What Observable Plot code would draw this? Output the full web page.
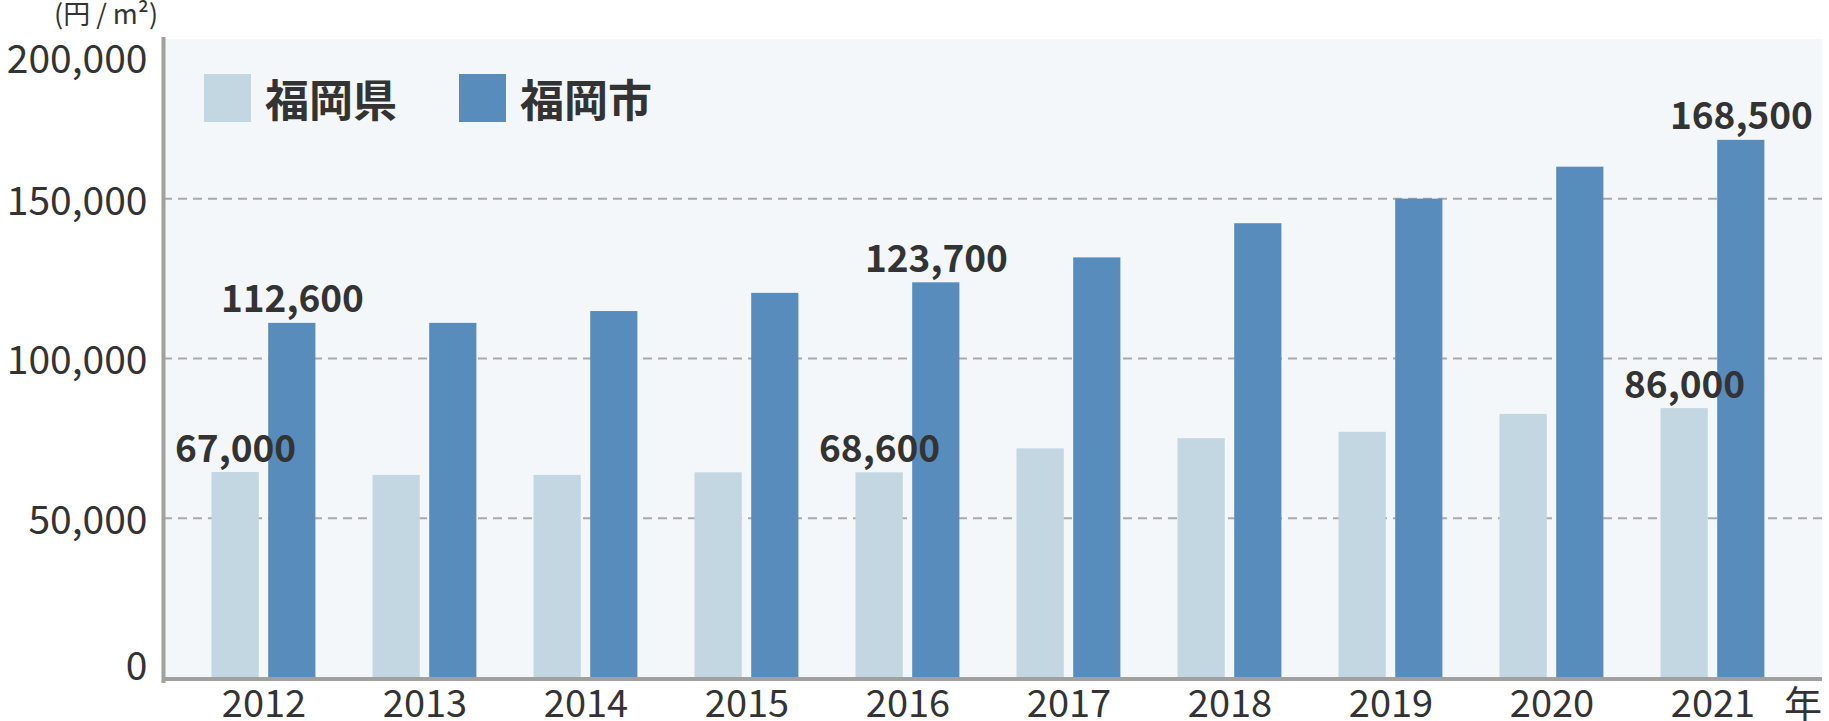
<!DOCTYPE html>
<html><head><meta charset="utf-8">
<script src="https://cdn.jsdelivr.net/npm/d3@7"></script>
<script src="https://cdn.jsdelivr.net/npm/@observablehq/plot@0.6"></script>
<style>
html,body{margin:0;padding:0;background:#fff;}
#wrap{position:relative;width:1829px;height:721px;overflow:hidden;font-family:"Noto Sans CJK JP","Noto Sans",sans-serif;color:#333;}
#wrap svg{position:absolute;left:0;top:0;}
.unit{position:absolute;left:54px;top:1px;font-size:27px;line-height:23px;white-space:nowrap;}
.legend{position:absolute;left:204px;top:74px;display:flex;align-items:center;height:48px;}
.legend .item{display:flex;align-items:center;margin-right:62px;}
.legend .sw{width:47px;height:48px;margin-right:14px;}
.legend .lab{font-size:44px;font-weight:bold;line-height:48px;white-space:nowrap;}
.nen{position:absolute;right:7px;top:684px;font-size:38px;line-height:36px;}
</style></head><body><div id="wrap"></div>
<script>
const years = ["2012","2013","2014","2015","2016","2017","2018","2019","2020","2021"];
const seriesNames = ["福岡県","福岡市"];
const seriesColors = ["#c3d7e3","#578cbc"];
const prefValues = [64300, 63400, 63400, 64200, 64200, 71700, 74900, 76900, 82500, 84300];
const cityValues = [111000, 111000, 114700, 120400, 123700, 131500, 142200, 149900, 159900, 168300];
const yTicks = [0, 50000, 100000, 150000, 200000];
const prefLabelYears = ["2012","2016","2021"];
const prefLabelTexts = ["67,000","68,600","86,000"];
const cityLabelYears = ["2012","2016","2021"];
const cityLabelTexts = ["112,600","123,700","168,500"];
const unitText = "(円 / m²)";
const yearUnit = "年";

const prefData = years.map((year, i) => ({year, value: prefValues[i]}));
const cityData = years.map((year, i) => ({year, value: cityValues[i]}));
const prefLabelData = prefLabelYears.map((year, i) => ({year, text: prefLabelTexts[i], value: prefValues[years.indexOf(year)]}));
const cityLabelData = cityLabelYears.map((year, i) => ({year, text: cityLabelTexts[i], value: cityValues[years.indexOf(year)]}));

const axisColor = "#a0a19c";
const textColor = "#333333";
const fmt = d3.format(",");

const chart = Plot.plot({
  width: 1829,
  height: 721,
  marginLeft: 163,
  marginRight: 7,
  marginTop: 38.6,
  marginBottom: 43.6,
  style: {fontFamily: "'Noto Sans CJK JP', 'Noto Sans', sans-serif", background: "transparent", overflow: "visible", color: textColor},
  x: {type: "band", domain: years, range: [180.5, 1795], padding: 0},
  y: {domain: [0, 200000]},
  marks: [
    Plot.frame({fill: "#f3f7fa", stroke: "none"}),
    Plot.ruleY(yTicks.filter(d => d > 0 && d < 200000), {stroke: "#a9a9a9", strokeWidth: 2, strokeDasharray: "9,6"}),
    Plot.barY(prefData, {x: "year", y: "value", fill: seriesColors[0], insetLeft: 28.5, insetRight: 85.2}),
    Plot.barY(cityData, {x: "year", y: "value", fill: seriesColors[1], insetLeft: 85.2, insetRight: 28.6}),
    Plot.frame({anchor: "left", stroke: axisColor, strokeWidth: 4, insetBottom: -3}),
    Plot.ruleY([0], {stroke: axisColor, strokeWidth: 4, dy: 1}),
    Plot.axisY(yTicks.filter(d => d > 0 && d < 200000), {tickSize: 0, tickPadding: 16, tickFormat: fmt, fontSize: 39, fill: textColor, dy: 3.5, label: null}),
    Plot.axisY([0], {tickSize: 0, tickPadding: 16, tickFormat: fmt, fontSize: 39, fill: textColor, dy: -10.5, label: null}),
    Plot.axisY([200000], {tickSize: 0, tickPadding: 16, tickFormat: fmt, fontSize: 39, fill: textColor, dy: 21, label: null}),
    Plot.axisX({tickSize: 0, tickPadding: 12, fontSize: 38, fill: textColor, label: null}),
    Plot.text(prefLabelData, {x: "year", y: "value", text: "text", dx: -28.4, dy: -11, lineAnchor: "bottom", fontSize: 37, fontWeight: "bold", fill: textColor}),
    Plot.text(cityLabelData, {x: "year", y: "value", text: "text", dx: 28.4, dy: -11, lineAnchor: "bottom", fontSize: 37, fontWeight: "bold", fill: textColor})
  ]
});

const wrap = document.getElementById("wrap");
wrap.appendChild(chart);

const unit = document.createElement("div");
unit.className = "unit";
unit.textContent = unitText;
wrap.appendChild(unit);

const legend = document.createElement("div");
legend.className = "legend";
seriesNames.forEach((name, i) => {
  const item = document.createElement("div");
  item.className = "item";
  const sw = document.createElement("div");
  sw.className = "sw";
  sw.style.background = seriesColors[i];
  const lab = document.createElement("div");
  lab.className = "lab";
  lab.textContent = name;
  item.appendChild(sw);
  item.appendChild(lab);
  legend.appendChild(item);
});
wrap.appendChild(legend);

const nen = document.createElement("div");
nen.className = "nen";
nen.textContent = yearUnit;
wrap.appendChild(nen);
</script>
</body></html>
